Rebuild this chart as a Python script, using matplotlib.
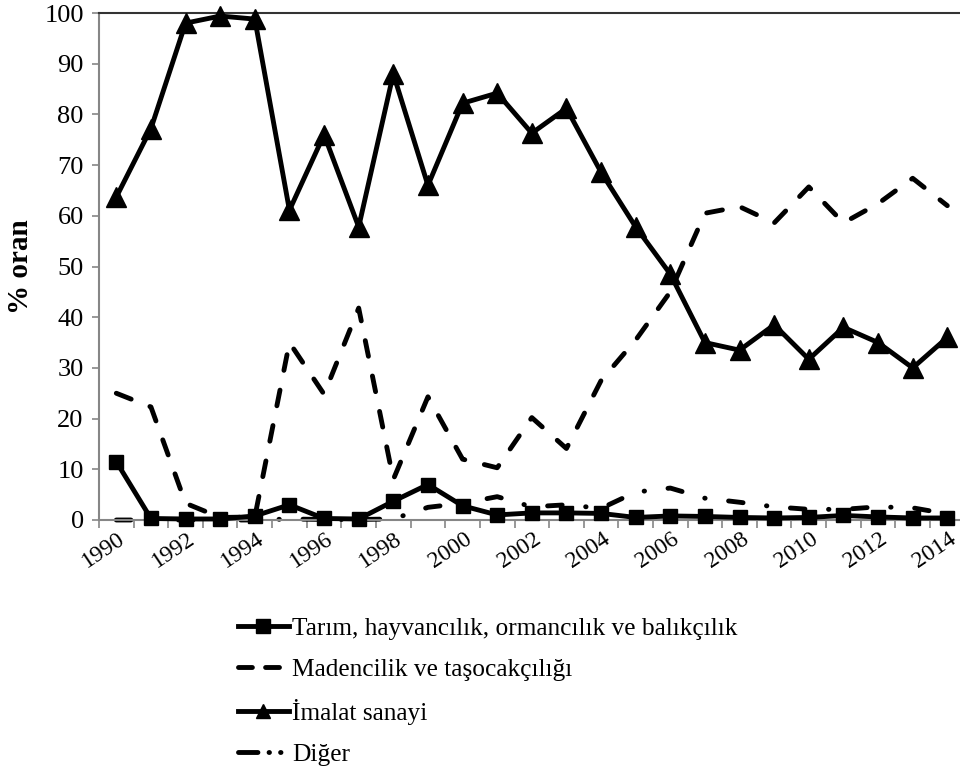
import matplotlib
matplotlib.use("Agg")
import matplotlib.pyplot as plt
from matplotlib.lines import Line2D
from matplotlib.ticker import FixedLocator, NullFormatter
import matplotlib.transforms as mtransforms

plt.rcParams['font.family'] = ['Liberation Serif', 'DejaVu Serif']
plt.rcParams['lines.scale_dashes'] = False

years = list(range(1990, 2015))
tarim = [11.5, 0.3, 0.2, 0.2, 0.8, 3.0, 0.3, 0.2, 3.7, 7.0, 2.8, 1.0, 1.4, 1.4, 1.3,
         0.5, 0.8, 0.7, 0.5, 0.4, 0.5, 0.9, 0.6, 0.4, 0.4]
madencilik = [25.0, 22.3, 3.3, 0.5, 0.6, 35.0, 24.8, 41.8, 8.0, 24.3, 12.0, 10.3, 20.2, 14.1, 27.5,
              35.5, 45.0, 60.5, 61.8, 58.6, 65.7, 58.6, 62.4, 67.4, 62.0]
imalat = [63.7, 77.2, 98.0, 99.4, 98.8, 61.1, 76.0, 57.8, 88.0, 66.0, 82.2, 84.2, 76.3, 81.2, 68.6,
          57.8, 48.5, 35.0, 33.5, 38.5, 31.7, 38.0, 35.0, 30.0, 36.0]
diger = [0.0, 0.0, 0.0, 0.0, 0.0, 0.2, 0.1, 0.1, 0.2, 2.5, 3.3, 4.6, 2.6, 3.0, 2.3,
         5.5, 6.3, 4.3, 3.5, 2.6, 2.1, 2.1, 2.6, 2.4, 1.2]

labels = ["Tarım, hayvancılık, ormancılık ve balıkçılık",
          "Madencilik ve taşocakçılığı",
          "İmalat sanayi",
          "Diğer"]

W, H = 960, 767
fig = plt.figure(figsize=(W / 100, H / 100), dpi=100)
ax_left, ax_top, ax_bottom = 99, 13, 520
spacing = 34.625
ax = fig.add_axes([ax_left / W, (H - ax_bottom) / H, (W - ax_left) / W, (ax_bottom - ax_top) / H])

x = list(range(len(years)))
lw = 3.5
ax.plot(x, madencilik, color='black', lw=lw, dashes=(11.5, 14.5), dash_capstyle='round',
        solid_capstyle='round', zorder=2, clip_on=False)
ax.plot(x, diger, color='black', lw=lw, dashes=(10.5, 17, 0.3, 17), dash_capstyle='round',
        zorder=2, clip_on=False)
ax.plot(x, tarim, color='black', lw=lw, marker='s', ms=10, zorder=3, clip_on=False)
ax.plot(x, imalat, color='black', lw=lw, marker='^', ms=14, zorder=3, clip_on=False)

ax.set_xlim(-0.5, -0.5 + (W - ax_left) / spacing)
ax.set_ylim(0, 100)
ax.set_yticks(range(0, 101, 10))
ax.tick_params(axis='y', direction='out', length=5, width=1.2, color='#868686', labelsize=19, pad=6)

ax.xaxis.set_major_locator(FixedLocator(x[::2]))
ax.set_xticklabels([str(y) for y in years[::2]], rotation=34, ha='right', va='top',
                   rotation_mode='anchor', fontsize=17)
ax.xaxis.set_minor_locator(FixedLocator([i - 0.5 for i in range(len(years) + 1)]))
ax.xaxis.set_minor_formatter(NullFormatter())
ax.tick_params(axis='x', which='major', length=0, pad=6)
ax.tick_params(axis='x', which='minor', direction='out', length=6, width=1.2, color='#868686')
offset = mtransforms.ScaledTranslation(1 / 100, 0, fig.dpi_scale_trans)
for lab in ax.get_xticklabels():
    lab.set_transform(lab.get_transform() + offset)

for s in ['left', 'bottom']:
    ax.spines[s].set_color('#868686')
    ax.spines[s].set_linewidth(1.5)
ax.spines['top'].set_color('#333333')
ax.spines['top'].set_linewidth(1.5)
ax.spines['right'].set_visible(False)

ax.set_ylabel('% oran', fontsize=21, fontweight='bold', labelpad=7.5)

handles = [
    Line2D([], [], color='black', lw=lw, marker='s', ms=10),
    Line2D([], [], color='black', lw=lw, dashes=(10, 9.5), dash_capstyle='round'),
    Line2D([], [], color='black', lw=lw, marker='^', ms=10),
    Line2D([], [], color='black', lw=lw, dashes=(14, 8, 0.3, 8, 0.3, 8), dash_capstyle='round'),
]
fig.legend(handles, labels, loc='upper left', bbox_to_anchor=(238 / W, 1 - 617 / H),
           frameon=False, fontsize=18.3, handlelength=2.0, handletextpad=0.12,
           labelspacing=0.72, borderpad=0, borderaxespad=0)

fig.savefig('out.png', dpi=100)
